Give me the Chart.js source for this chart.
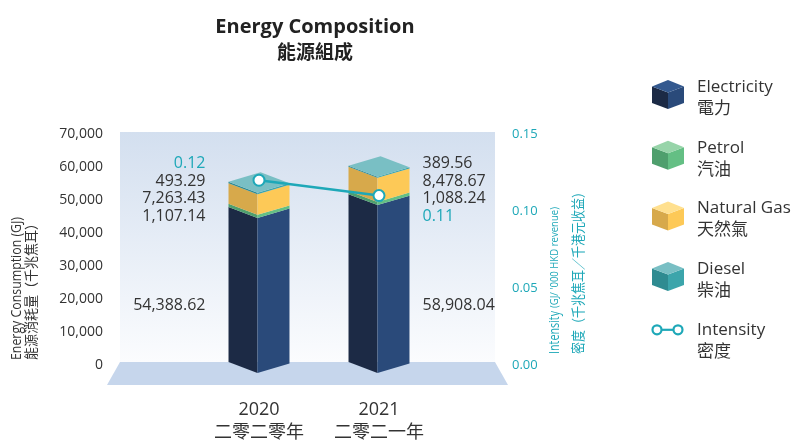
<!DOCTYPE html>
<html><head><meta charset="utf-8">
<script src="https://cdn.jsdelivr.net/npm/chart.js@4"></script>
<style>html,body{margin:0;padding:0;background:#fff;}#wrap{width:794px;height:441px;}</style>
</head><body><div id="wrap"><canvas id="c" width="794" height="441"></canvas></div>
<script>
// ---------- data ----------
const years = ['2020', '2021'];
const yearsZh = ['二零二零年', '二零二一年'];
const electricity = [54388.62, 58908.04];
const petrol = [1107.14, 1088.24];
const naturalGas = [7263.43, 8478.67];
const diesel = [493.29, 389.56];
const intensity = [0.12, 0.11];
const seriesEn = ['Electricity', 'Petrol', 'Natural Gas', 'Diesel', 'Intensity'];
const seriesZh = ['電力', '汽油', '天然氣', '柴油', '密度'];
const energyTicks = [0, 10000, 20000, 30000, 40000, 50000, 60000, 70000];
const intensityTicks = [0, 0.05, 0.10, 0.15];
const titleEn = 'Energy Composition';
const titleZh = '能源組成';
const leftTitle = ['Energy Consumption (GJ)', '能源消耗量（千兆焦耳）'];
const rightTitle = ['Intensity', "(GJ/ '000 HKD revenue)", '密度（千兆焦耳／千港元收益）'];

// ---------- style ----------
const FONT = "'Open Sans','Noto Sans CJK TC',sans-serif";
const DARK = '#333333';
const TEAL = '#1ea8b8';
const faceColors = [
  {left: '#1c2a45', right: '#2a4a7a', top: '#34598f'},
  {left: '#4f9f6d', right: '#64bf84', top: '#97d4a9'},
  {left: '#d7a94b', right: '#fdc957', top: '#ffe08f'},
  {left: '#2f8b91', right: '#3ca5ab', top: '#79bfc4'}
];
const barSeries = [electricity, petrol, naturalGas, diesel];

function poly(ctx, pts, color) {
  ctx.beginPath();
  ctx.moveTo(pts[0][0], pts[0][1]);
  for (let i = 1; i < pts.length; i++) ctx.lineTo(pts[i][0], pts[i][1]);
  ctx.closePath();
  ctx.fillStyle = color;
  ctx.fill();
}
function fmt(v) { return v.toLocaleString('en-US', {minimumFractionDigits: 2, maximumFractionDigits: 2}); }

function barGeom(chart, i) {
  const m0 = chart.getDatasetMeta(0).data[i];
  const w = m0.width, L = m0.x - w / 2, R = m0.x + w / 2, F = L + 0.475 * w;
  return {w, L, R, F, d1: 0.18 * w, d2: 0.155 * w};
}
function fixPad(s) { s.paddingTop = 8; s.paddingBottom = 8; }

const threeD = {
  id: 'threeD',
  beforeDatasetsDraw(chart) {
    const {ctx, chartArea: a} = chart;
    ctx.save();
    const wl = a.left - 79, wr = a.right + 56, wt = a.top - 2, wb = a.bottom - 3;
    const g = ctx.createLinearGradient(0, wt, 0, wb);
    g.addColorStop(0, '#d3dfef');
    g.addColorStop(1, '#fbfcfe');
    ctx.fillStyle = g;
    ctx.fillRect(wl, wt, wr - wl, wb - wt);
    poly(ctx, [[wl, wb], [wr, wb], [wr + 13, a.bottom + 20], [wl - 13, a.bottom + 20]], '#c6d6ec');
    years.forEach((_, i) => {
      const {L, R, F, d1, d2} = barGeom(chart, i);
      let topY = null, topK = 0;
      barSeries.forEach((s, k) => {
        const el = chart.getDatasetMeta(k).data[i];
        const yT = el.y, yB = el.base, c = faceColors[k];
        poly(ctx, [[L, yT - d1], [F, yT], [F, yB], [L, yB - d1]], c.left);
        poly(ctx, [[F, yT], [R, yT - d2], [R, yB - d2], [F, yB]], c.right);
        if (topY === null || yT < topY) { topY = yT; topK = k; }
      });
      poly(ctx, [[L, topY - d1], [L + R - F, topY - d1 - d2], [R, topY - d2], [F, topY]], faceColors[topK].top);
    });
    ctx.restore();
  },
  afterDraw(chart) {
    const {ctx, chartArea: a} = chart;
    ctx.save();
    // data labels
    const lineMeta = chart.getDatasetMeta(barSeries.length);
    years.forEach((_, i) => {
      const {L, R} = barGeom(chart, i);
      let topFront = Infinity;
      barSeries.forEach((s, k) => { topFront = Math.min(topFront, chart.getDatasetMeta(k).data[i].y); });
      const items = [];
      for (let k = barSeries.length - 1; k >= 1; k--) items.push({t: fmt(barSeries[k][i]), c: DARK});
      const iItem = {t: intensity[i].toFixed(2), c: TEAL};
      if (lineMeta.data[i].y < topFront) items.unshift(iItem); else items.push(iItem);
      const leftSide = i < years.length / 2;
      ctx.textAlign = leftSide ? 'right' : 'left';
      const x = leftSide ? L - 23 : R + 13;
      ctx.textBaseline = 'middle';
      ctx.font = '16px ' + FONT;
      const step = 17.8, cy = a.top + 56;
      items.forEach((it, j) => {
        ctx.fillStyle = it.c;
        ctx.fillText(it.t, x, cy + (j - (items.length - 1) / 2) * step);
      });
      ctx.fillStyle = DARK;
      ctx.fillText(fmt(electricity[i]), x, a.top + 171);
    });

    // title
    ctx.textAlign = 'center';
    ctx.textBaseline = 'middle';
    ctx.fillStyle = '#222';
    ctx.font = 'bold 20px ' + FONT;
    ctx.fillText(titleEn, 315, 27);
    ctx.font = 'bold 19px ' + FONT;
    ctx.fillText(titleZh, 315, 54);

    // left axis title
    ctx.save();
    ctx.translate(17, 360);
    ctx.rotate(-Math.PI / 2);
    ctx.textAlign = 'left';
    ctx.fillStyle = DARK;
    ctx.font = '15px ' + FONT;
    ctx.fillText(leftTitle[0], 0, 0, 143);
    ctx.font = '14px ' + FONT;
    ctx.fillText(leftTitle[1], 0, 15.5, 143);
    ctx.restore();

    // right axis title
    ctx.save();
    ctx.translate(555, 354);
    ctx.rotate(-Math.PI / 2);
    ctx.textAlign = 'left';
    ctx.fillStyle = TEAL;
    ctx.font = '14px ' + FONT;
    ctx.fillText(rightTitle[0], 0, 0, 43);
    ctx.font = '10px ' + FONT;
    ctx.fillText(rightTitle[1], 46, 0, 101);
    ctx.font = '14px ' + FONT;
    ctx.fillText(rightTitle[2], 0, 24, 168);
    ctx.restore();

    // legend
    const lx = 652, cw = 32;
    seriesEn.forEach((name, k) => {
      const top = 80 + k * 60.7;
      if (k < faceColors.length) {
        const c = faceColors[k], fx = lx + cw / 2;
        poly(ctx, [[lx, top + 6.5], [fx, top + 12.5], [fx, top + 29], [lx, top + 23]], c.left);
        poly(ctx, [[fx, top + 12.5], [lx + cw, top + 6.5], [lx + cw, top + 23], [fx, top + 29]], c.right);
        poly(ctx, [[lx, top + 6.5], [fx, top], [lx + cw, top + 6.5], [fx, top + 12.5]], c.top);
      } else {
        const y = top + 7;
        ctx.strokeStyle = TEAL; ctx.lineWidth = 2.2;
        ctx.beginPath(); ctx.moveTo(lx + 4, y); ctx.lineTo(lx + 27, y); ctx.stroke();
        [lx + 5, lx + 26].forEach(px => {
          ctx.beginPath(); ctx.arc(px, y, 4.5, 0, Math.PI * 2);
          ctx.fillStyle = '#fff'; ctx.fill(); ctx.stroke();
        });
      }
      ctx.textAlign = 'left';
      ctx.textBaseline = 'middle';
      ctx.fillStyle = DARK;
      ctx.font = '17px ' + FONT;
      ctx.fillText(name, 697, top + 7);
      ctx.fillText(seriesZh[k], 697, top + 29);
    });
    ctx.restore();
  }
};

const datasets = barSeries.map((arr, k) => ({
  type: 'bar', label: seriesEn[k], data: arr, yAxisID: 'yBar', stack: 'energy', order: 1,
  backgroundColor: 'rgba(0,0,0,0)', borderWidth: 0, barPercentage: 0.508, categoryPercentage: 1
}));
datasets.push({
  type: 'line', label: seriesEn[4], data: intensity, yAxisID: 'y2', order: 0,
  borderColor: TEAL, borderWidth: 2.5, pointRadius: 5.5, pointBorderWidth: 2,
  pointBackgroundColor: '#fff', pointBorderColor: TEAL, tension: 0
});

new Chart(document.getElementById('c'), {
  data: {labels: years.map((y, i) => [y, yearsZh[i]]), datasets},
  plugins: [threeD],
  options: {
    responsive: false, animation: false, devicePixelRatio: 1,
    layout: {padding: {top: 134, left: 0, right: 0, bottom: 0}},
    plugins: {legend: {display: false}, tooltip: {enabled: false}, title: {display: false}},
    scales: {
      x: {
        type: 'category', offset: true, stacked: true,
        grid: {display: false, drawTicks: false}, border: {display: false},
        ticks: {color: DARK, font: {family: FONT, size: 18, lineHeight: 1.26}, padding: 34, maxRotation: 0},
        afterFit(s) { s.height = 76; }
      },
      y: {
        position: 'left', min: 0, max: 70000,
        grid: {display: false, drawTicks: false}, border: {display: false},
        ticks: {color: DARK, font: {family: FONT, size: 14}, padding: 96,
          callback: v => v.toLocaleString('en-US')},
        afterBuildTicks(s) { s.ticks = energyTicks.map(v => ({value: v})); },
        afterFit(s) { s.width = 199; fixPad(s); }
      },
      yBar: {display: false, stacked: true, min: 2807, max: 83860},
      y2: {
        position: 'right', min: 0, max: 0.15,
        grid: {display: false, drawTicks: false}, border: {display: false},
        ticks: {color: TEAL, font: {family: FONT, size: 13}, padding: 73,
          callback: v => Number(v).toFixed(2)},
        afterBuildTicks(s) { s.ticks = intensityTicks.map(v => ({value: v})); },
        afterFit(s) { s.width = 355; fixPad(s); }
      }
    }
  }
});
</script>
</body></html>
